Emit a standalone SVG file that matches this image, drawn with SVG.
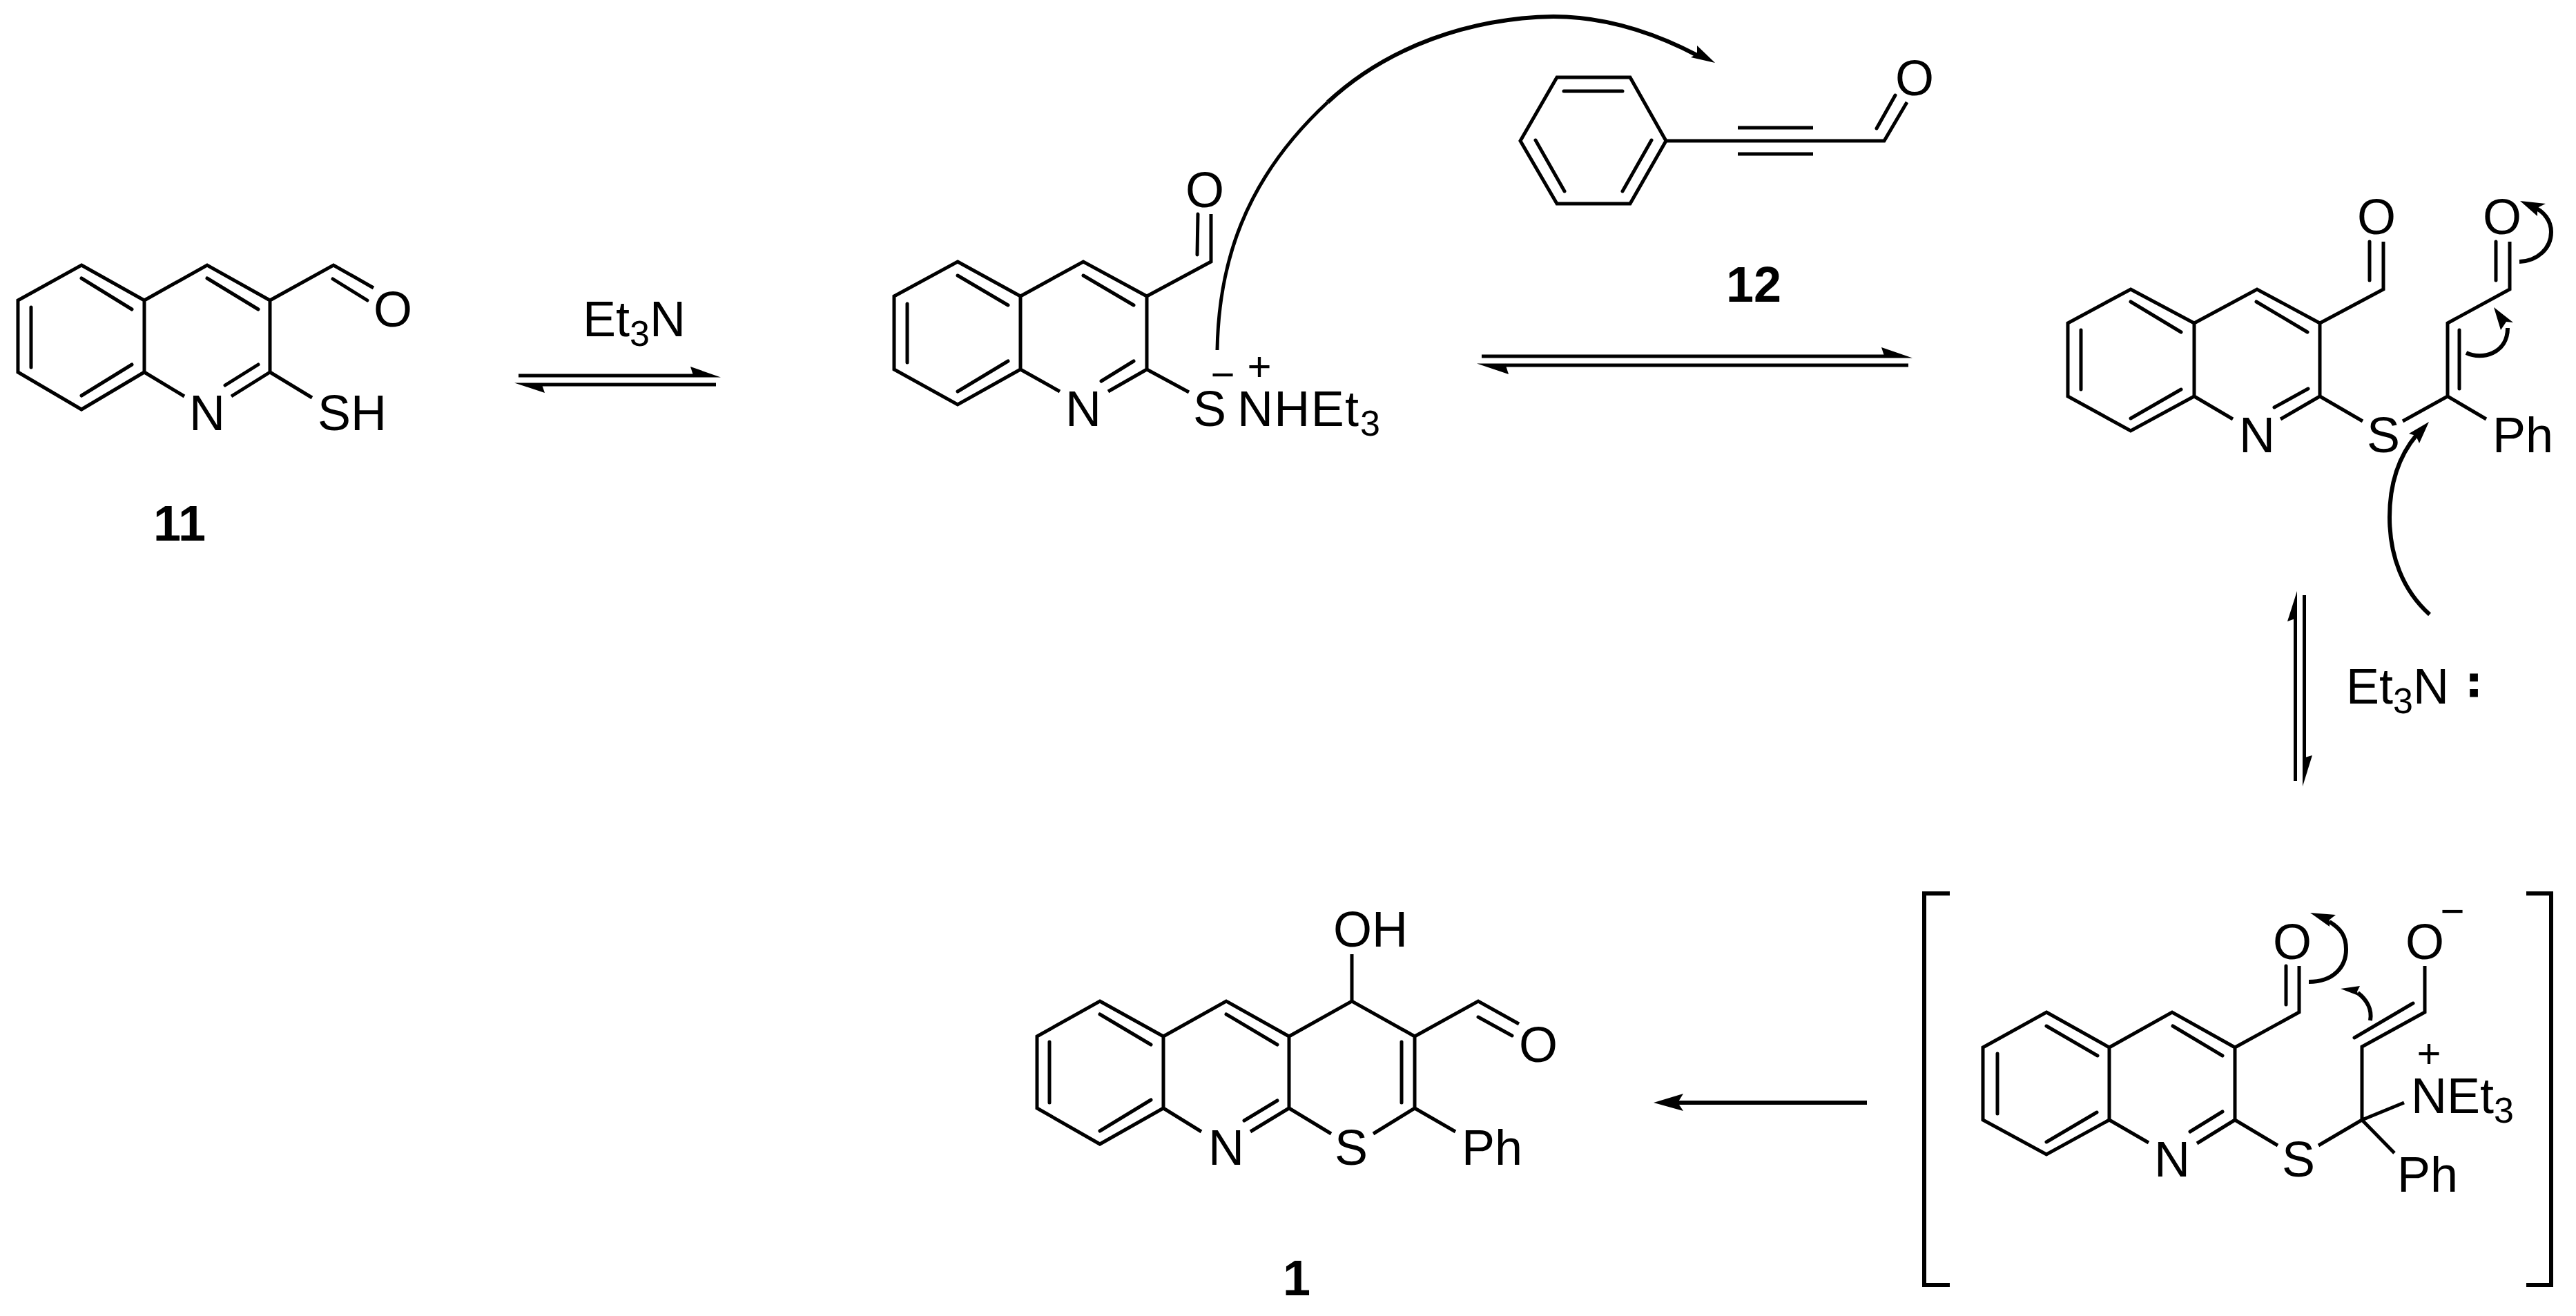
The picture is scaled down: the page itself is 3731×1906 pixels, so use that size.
<svg xmlns="http://www.w3.org/2000/svg" width="3731" height="1906" viewBox="0 0 3731 1906">
<style>
.b{fill:none;stroke:#000;stroke-width:5;stroke-linejoin:miter;stroke-linecap:butt}
.i{fill:none;stroke:#000;stroke-width:5;stroke-linecap:round}
.a{fill:none;stroke:#000;stroke-width:5}
.c{fill:none;stroke:#000;stroke-width:6}
.h{fill:#000;stroke:none}
text{font-family:"Liberation Sans",Arial,sans-serif;font-size:72px;fill:#000}
.m{text-anchor:middle}
.l{font-weight:bold}
.q{font-size:60px;text-anchor:middle}
tspan.s{font-size:52px}
</style>
<rect width="3731" height="1906" fill="#fff"/>
<g id="compound-11">
<path class="b" d="M118 384L209 435V539L118 593L26 539V435ZM209 435L300 384L391 435V539M391 435L483 384L541 417M209 539L267 574M391 539L335 574M391 539L452 576"/>
<path class="i" d="M118 403L191 448M300 403L374 448M45 445V532M191 528L118 573M374 528L326 558M482 404L532 435"/>
<text class="m" x="569" y="473">O</text>
<text class="m" x="300" y="623">N</text>
<text x="460" y="623">SH</text>
<text class="l" x="222" y="783">11</text>
</g>
<g id="reagent-et3n">
<text x="844" y="487">Et<tspan class="s" dy="14">3</tspan><tspan dy="-14">N</tspan></text>
</g>
<g id="thiolate-salt">
<path class="b" d="M1387 379L1478 429V535L1387 586L1295 535V429ZM1478 429L1569 379L1661 429V535M1661 429L1754 379V310M1478 535L1535 567M1661 535L1605 567M1661 535L1722 568"/>
<path class="i" d="M1387 399L1460 442M1569 399L1642 442M1314 440V525M1460 523L1387 567M1642 523L1595 552M1735 310L1734 369"/>
<text class="m" x="1745" y="300">O</text>
<text class="m" x="1569" y="617">N</text>
<text class="m" x="1752" y="617">S</text>
<text x="1792" y="617" textLength="176" lengthAdjust="spacing">NHEt</text>
<text class="s" x="1970" y="631" style="font-size:52px">3</text>
<text class="q" x="1771" y="563">−</text>
<text class="q" x="1824" y="551">+</text>
</g>
<g id="compound-12">
<path class="b" d="M2202 204L2255 112H2361L2413 204L2361 295H2255ZM2413 204H2729L2762 148"/>
<path class="i" d="M2265 132H2350M2224 203L2266 277M2392 203L2350 277M2718 186L2745 138"/>
<path class="b" d="M2517 185H2626M2517 223H2626"/>
<text class="m" x="2773" y="138">O</text>
<text class="l" x="2500" y="437">12</text>
</g>
<g id="adduct">
<path class="b" d="M3086 419L3178 468V574L3086 624L2995 574V468ZM3178 468L3269 419L3360 468V574M3360 468L3452 419V350M3178 574L3234 607M3360 574L3303 607M3360 574L3422 610M3480 610L3545 574V468L3635 419V350M3545 574L3601 607"/>
<path class="i" d="M3086 437L3159 481M3268 437L3342 481M3014 478V564M3159 564L3086 606M3343 563L3294 590M3432 350V406M3615 350V406M3562 478V563"/>
<text class="m" x="3442" y="339">O</text>
<text class="m" x="3624" y="339">O</text>
<text class="m" x="3269" y="655">N</text>
<text class="m" x="3452" y="655">S</text>
<text x="3610" y="655">Ph</text>
</g>
<g id="reagent-et3n-2">
<text x="3398" y="1019">Et<tspan class="s" dy="14">3</tspan><tspan dy="-14">N</tspan></text>
<text class="l m" x="3583" y="1008" style="font-size:62px;stroke:#000;stroke-width:3">:</text>
</g>
<g id="intermediate">
<path class="b" d="M2964 1466L3055 1517V1622L2964 1672L2872 1622V1517ZM3055 1517L3146 1466L3237 1517V1622M3237 1517L3330 1466V1399M3055 1622L3112 1655M3237 1622L3182 1656M3237 1622L3299 1659M3358 1659L3421 1622V1516L3512 1466V1399M3421 1622L3482 1597M3421 1622L3468 1670"/>
<path class="i" d="M2964 1486L3038 1529M3147 1486L3219 1529M2893 1526V1613M3037 1611L2964 1654M3219 1610L3172 1639M3311 1399V1455M3410 1503L3495 1453"/>
<path class="b" style="stroke-width:6" d="M2824 1294H2787V1861H2824M3659 1294H3695V1861H3659"/>
<text class="m" x="3320" y="1389">O</text>
<text class="m" x="3512" y="1389">O</text>
<text class="q" x="3552" y="1340">−</text>
<text class="q" x="3518" y="1546">+</text>
<text x="3492" y="1612">NEt<tspan class="s" dy="14">3</tspan></text>
<text class="m" x="3146" y="1704">N</text>
<text class="m" x="3329" y="1704">S</text>
<text x="3472" y="1726">Ph</text>
</g>
<g id="compound-1">
<path class="b" d="M1593 1450L1685 1501V1605L1593 1657L1502 1605V1501ZM1685 1501L1776 1450L1867 1501V1605M1867 1501L1958 1450L2049 1501V1605M2049 1501L2141 1450L2200 1483M1958 1450V1382M1685 1605L1740 1639M1867 1605L1811 1639M1867 1605L1928 1642M1989 1642L2049 1605L2108 1639"/>
<path class="i" d="M1593 1469L1667 1513M1776 1469L1850 1513M1520 1509V1597M1667 1593L1593 1638M1850 1594L1802 1623M2030 1509V1597M2141 1473L2190 1500"/>
<text class="m" x="2228" y="1538">O</text>
<text x="1931" y="1371">OH</text>
<text class="m" x="1776" y="1687">N</text>
<text class="m" x="1957" y="1687">S</text>
<text x="2117" y="1687">Ph</text>
<text class="l" x="1858" y="1876">1</text>
</g>
<g id="connectors">
<path class="a" d="M751 544H1005M1037 557H784"/>
<polygon class="h" points="1044,546.5 1000,531 1005,546.5"/>
<polygon class="h" points="745,554.5 789,569 784,554.5"/>
<path class="a" d="M2146 516H2730M2764 529H2180"/>
<polygon class="h" points="2770,518.5 2725,503 2730,518.5"/>
<polygon class="h" points="2139,526.5 2185,542 2180,526.5"/>
<path class="a" d="M3324.5 895V1131M3337.5 862V1098"/>
<polygon class="h" points="3327,856 3313,900 3327,895"/>
<polygon class="h" points="3335,1139 3349,1094 3335,1098"/>
<path class="a" style="stroke-width:6" d="M2704 1597H2430"/>
<polygon class="h" points="2395,1597 2438,1584 2430,1597 2438,1609"/>
<path class="a" d="M1763 507C1765 385 1800 262 1923 148"/>
<path class="c" d="M1923 148C2010 67 2130 26 2250 24C2325 24 2395 47 2458 80"/>
<polygon class="h" points="2484,91 2458,66 2458,78 2449,83"/>
<path class="c" d="M3649 379C3675 378 3695 360 3695 336C3695 320 3685 306 3668 299"/>
<polygon class="h" points="3650,291 3687,295 3675,301 3675,313"/>
<path class="c" d="M3572 511C3595 522 3632 512 3632 475"/>
<polygon class="h" points="3612,445 3640,467 3630,466 3622,478"/>
<path class="c" d="M3519 890C3480 855 3461 805 3461 749C3461 700 3475 660 3500 630"/>
<polygon class="h" points="3518,611 3489,628 3499,631 3504,642"/>
<path class="c" d="M3344 1422C3380 1422 3398 1400 3398 1375C3398 1355 3390 1345 3374 1335"/>
<polygon class="h" points="3346,1322 3383,1325 3374,1332 3374,1342"/>
<path class="c" d="M3433 1478C3436 1462 3428 1448 3415 1438"/>
<polygon class="h" points="3390,1432 3418,1428 3414,1436 3416,1442"/>
</g>
</svg>
